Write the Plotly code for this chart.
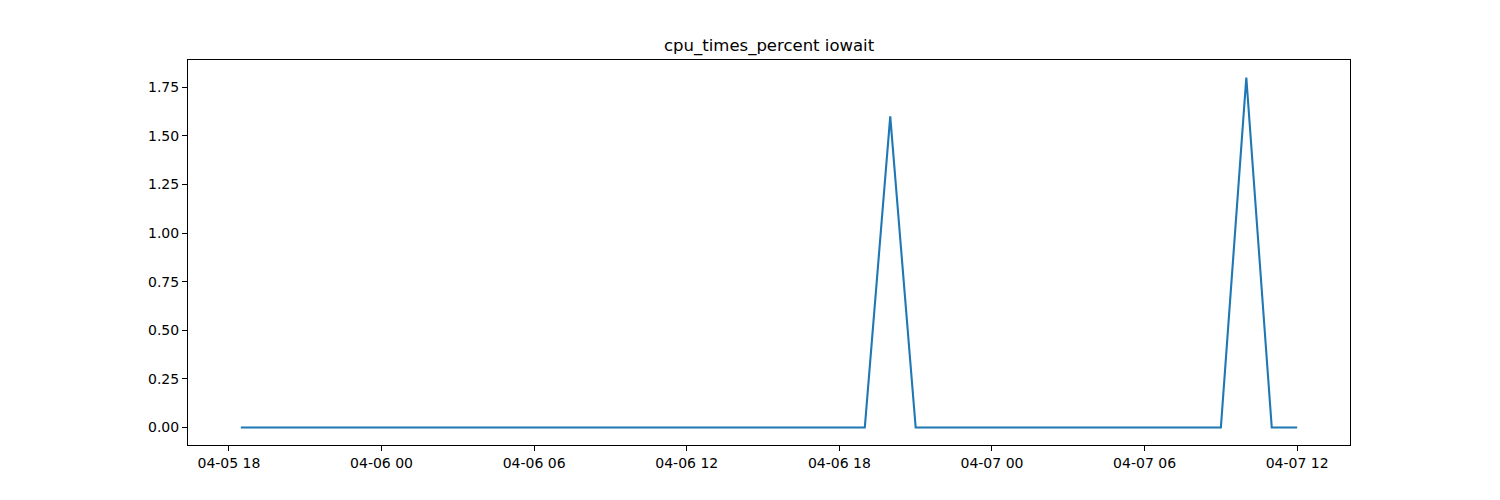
import pandas as pd
import plotly.graph_objects as go

# sample times (hourly after the first sample); only the change points are listed
times = ["2024-04-05 18:28", "2024-04-06 19:00", "2024-04-06 20:00", "2024-04-06 21:00",
         "2024-04-07 09:00", "2024-04-07 10:00", "2024-04-07 11:00", "2024-04-07 12:00"]
iowait = [0.0, 0.0, 1.6, 0.0, 0.0, 1.8, 0.0, 0.0]

y_ticks = [0.0, 0.25, 0.5, 0.75, 1.0, 1.25, 1.5, 1.75]
title = "cpu_times_percent iowait"

t = pd.to_datetime(times)
pad = (t.max() - t.min()) * 0.05
x_range = [t.min() - pad, t.max() + pad]
y_pad = (max(iowait) - min(iowait)) * 0.05
y_range = [min(iowait) - y_pad, max(iowait) + y_pad]

fig = go.Figure()
fig.add_trace(go.Scatter(
    x=t, y=iowait, mode='lines',
    line=dict(color='#1f77b4', width=2.1),
    showlegend=False
))

axis_style = dict(
    showline=True, mirror=True, linecolor='black', linewidth=1.1,
    showgrid=False, zeroline=False,
    ticks='outside', ticklen=5, tickwidth=1.1, tickcolor='black',
    tickfont=dict(family='DejaVu Sans', size=14, color='black'),
)

# the page body adds an 8px offset, so margins are shifted to compensate
fig.update_layout(
    width=1500, height=500,
    plot_bgcolor='white', paper_bgcolor='white',
    margin=dict(l=179.5, r=158, t=52, b=63),
    xaxis=dict(range=x_range, type='date', tickformat='%m-%d %H',
               tick0='2024-04-05 00:00', dtick=6 * 3600 * 1000, **axis_style),
    yaxis=dict(range=y_range, tickvals=y_ticks, tickformat='.2f', **axis_style),
    annotations=[dict(
        text=title, x=0.5, y=1, xref='paper', yref='paper',
        xanchor='center', yanchor='bottom', yshift=2, showarrow=False,
        font=dict(family='DejaVu Sans', size=16.5, color='black')
    )],
)

fig.write_html("out.html")
